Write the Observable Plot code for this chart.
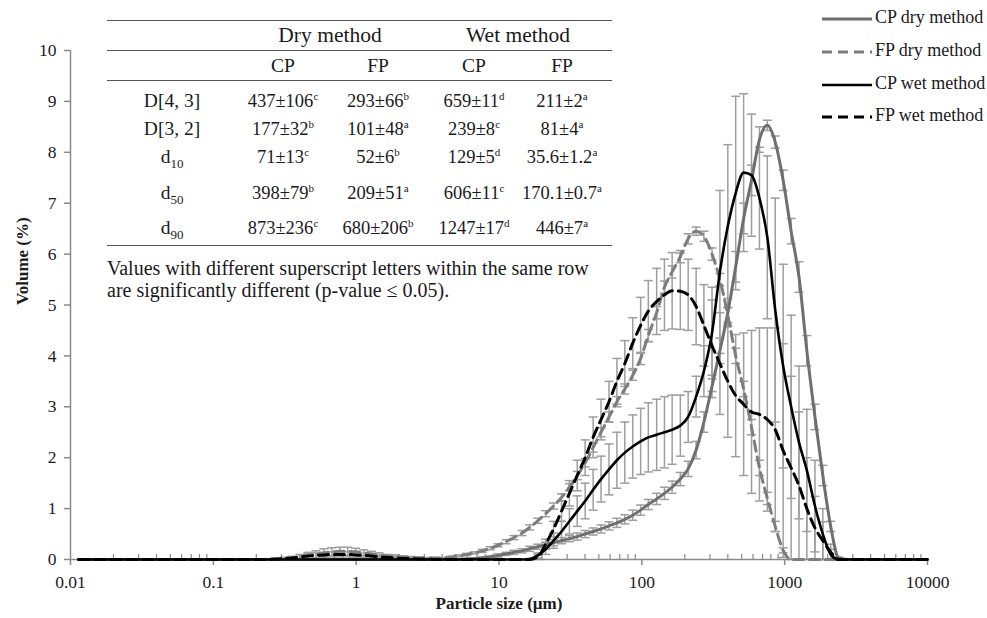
<!DOCTYPE html>
<html><head><meta charset="utf-8">
<script src="https://cdn.jsdelivr.net/npm/d3@7"></script>
<script src="https://cdn.jsdelivr.net/npm/@observablehq/plot@0.6"></script>
<style>
body{margin:0;background:#fff;}
#wrap{position:relative;width:987px;height:618px;font-family:"Liberation Serif",serif;color:#1a1a1a;overflow:hidden;}
.t{position:absolute;white-space:nowrap;text-align:center;line-height:20px;height:20px;font-size:18.5px;}
.t.hd{font-size:21.5px;}
.t.lab{font-size:19.5px;}
.t.note{font-size:20px;}
.rule{position:absolute;height:0;border-top:1.6px solid #555;}
.t sup{font-size:11px;line-height:0;vertical-align:0.65em;}
.t sub{font-size:13px;line-height:0;vertical-align:-0.4em;}
.lg{position:absolute;left:822px;height:20px;line-height:20px;font-size:18px;white-space:nowrap;}
.lg svg{vertical-align:middle;margin-right:3px;}
</style></head><body><div id="wrap"></div><script>
// ---------- data ----------
const sizes = [0.0114, 0.05, 0.1, 0.2, 0.276, 0.314,
 0.357, 0.405, 0.46, 0.523, 0.594, 0.675, 0.767, 0.872, 0.991,
 1.13, 1.28, 1.45, 1.65, 1.88, 2.13, 2.42, 2.75, 3.12, 3.55,
 4.03, 4.58, 5.21, 5.92, 6.72, 7.64, 8.68, 9.86,
 11.2, 12.7, 14.5, 16.4, 18.7, 21.2, 24.1, 27.4, 31.1, 35.3,
 40.1, 45.6, 51.8, 58.9, 66.9, 76.0, 86.4, 98.1,
 111, 127, 144, 163, 186, 211, 240, 272, 310, 352,
 400, 454, 516, 586, 666, 756, 859, 976,
 1110, 1260, 1430, 1630, 1850, 2100, 2390,
 2710, 3500, 10000];

const cpDry = [0,0,0,0,0,0,
 0,0,0,0,0,0,0,0,0,
 0,0,0,0,0,0,0,0,0,0,
 0,0,0,0.01,0.02,0.03,0.05,0.08,
 0.11,0.14,0.17,0.21,0.25,0.29,0.33,0.37,0.41,0.45,
 0.5,0.55,0.6,0.66,0.72,0.79,0.87,0.97,
 1.08,1.19,1.3,1.42,1.58,1.78,2.15,2.7,3.4,4.1,
 4.85,5.75,6.7,7.45,8.25,8.53,8.2,7.45,
 6.45,5.55,4.1,2.8,1.65,0.65,0.03,
 0,0,0];
const fpDry = [0,0,0,0,0.01,0.02,
 0.03,0.05,0.08,0.1,0.13,0.15,0.16,0.16,0.15,
 0.13,0.11,0.09,0.07,0.06,0.05,0.04,0.03,0.03,0.03,
 0.03,0.05,0.07,0.1,0.13,0.17,0.22,0.28,
 0.35,0.43,0.52,0.63,0.76,0.9,1.05,1.22,1.42,1.65,
 1.9,2.2,2.5,2.8,3.1,3.35,3.62,3.95,
 4.4,4.85,5.35,5.65,5.95,6.3,6.45,6.35,6.0,5.5,
 4.8,4.0,3.35,2.6,1.8,1.2,0.65,0.18,
 0,0,0,0,0,0,0,
 0,0,0];
const cpWet = [0,0,0,0,0,0,
 0,0,0,0,0,0,0,0,0,
 0,0,0,0,0,0,0,0,0,0,
 0,0,0,0,0,0,0,0,
 0,0,0,0.01,0.08,0.2,0.37,0.55,0.75,0.95,
 1.15,1.37,1.58,1.77,1.95,2.1,2.22,2.32,
 2.4,2.45,2.5,2.55,2.63,2.8,3.2,3.7,4.45,5.65,
 6.55,7.2,7.6,7.55,7.1,6.33,4.9,3.8,
 3.0,2.3,1.75,1.05,0.5,0.1,0,
 0,0,0];
const fpWet = [0,0,0,0,0.01,0.02,
 0.03,0.05,0.07,0.08,0.09,0.1,0.1,0.1,0.09,
 0.08,0.07,0.05,0.04,0.03,0.02,0.02,0.01,0.01,0,
 0,0,0,0,0,0,0,0,
 0,0,0,0,0.05,0.3,0.6,0.95,1.3,1.65,
 2.0,2.4,2.75,3.1,3.5,3.85,4.25,4.6,
 4.88,5.07,5.2,5.28,5.27,5.2,4.97,4.6,4.2,3.85,
 3.5,3.22,3.05,2.9,2.85,2.75,2.55,2.14,
 1.8,1.45,1.0,0.62,0.37,0.15,0,
 0,0,0];

const errCpDry = [0,0,0,0,0,0,
 0,0,0,0,0,0,0,0,0,
 0,0,0,0,0,0,0,0,0,0,
 0,0,0,0.01,0.01,0.02,0.02,0.03,
 0.03,0.04,0.04,0.05,0.05,0.05,0.06,0.06,0.06,0.07,
 0.07,0.07,0.08,0.08,0.09,0.09,0.1,0.1,
 0.1,0.11,0.12,0.12,0.13,0.15,0.17,0.2,0.22,0.25,
 0.28,0.3,0.3,0.3,0.25,0.1,0.12,0.2,
 0.25,0.3,0.3,0.25,0.2,0.1,0.02,
 0,0,0];
const errFpDry = [0,0,0,0,0.01,0.02,
 0.03,0.05,0.06,0.07,0.08,0.08,0.08,0.08,0.07,
 0.06,0.05,0.04,0.03,0.03,0.02,0.02,0.02,0.01,0.01,
 0.01,0.01,0.02,0.02,0.02,0.03,0.03,0.03,
 0.04,0.04,0.05,0.05,0.05,0.06,0.06,0.07,0.07,0.08,
 0.08,0.09,0.09,0.1,0.1,0.1,0.1,0.12,
 0.12,0.12,0.12,0.12,0.12,0.1,0.08,0.1,0.12,0.12,
 0.15,0.15,0.15,0.15,0.15,0.12,0.1,0.05,
 0,0,0,0,0,0,0,
 0,0,0];
const errCpWet = [0,0,0,0,0,0,
 0,0,0,0,0,0,0,0,0,
 0,0,0,0,0,0,0,0,0,0,
 0,0,0,0,0,0,0,0,
 0,0,0,0.01,0.05,0.1,0.15,0.2,0.25,0.3,
 0.35,0.4,0.45,0.5,0.55,0.6,0.62,0.65,
 0.68,0.7,0.7,0.68,0.6,0.5,0.4,0.5,0.9,1.6,
 1.6,1.9,1.55,1.2,1.0,1.6,2.2,2.0,
 1.8,1.5,1.2,0.9,0.5,0.1,0,
 0,0,0];
const errFpWet = [0,0,0,0,0.01,0.02,
 0.03,0.04,0.05,0.05,0.05,0.05,0.05,0.05,0.05,
 0.04,0.04,0.03,0.02,0.02,0.01,0.01,0.01,0.01,0,
 0,0,0,0,0,0,0,0,
 0,0,0,0,0.05,0.1,0.15,0.2,0.25,0.3,
 0.35,0.4,0.4,0.4,0.45,0.45,0.5,0.55,
 0.6,0.65,0.7,0.75,0.75,0.7,0.75,0.8,0.9,1.0,
 1.1,1.2,1.4,1.6,1.7,1.8,2.0,2.1,
 1.8,1.45,1.0,0.62,0.37,0.15,0,
 0,0,0];

const seriesNames = ["CP dry method", "FP dry method", "CP wet method", "FP wet method"];
const yTicks = [0,1,2,3,4,5,6,7,8,9,10];
const yTickLabels = ["0","1","2","3","4","5","6","7","8","9","10"];
const xTicks = [0.01, 0.1, 1, 10, 100, 1000, 10000];
const xTickLabels = ["0.01","0.1","1","10","100","1000","10000"];
const xTitle = "Particle size (µm)";
const yTitle = "Volume (%)";

// table content
const methodHeaders = ["Dry method", "Wet method"];
const sampleHeaders = ["CP", "FP", "CP", "FP"];
const rowLabelMain = ["D[4, 3]", "D[3, 2]", "d", "d", "d"];
const rowLabelSub = ["", "", "10", "50", "90"];
const dryCP = ["437±106", "177±32", "71±13", "398±79", "873±236"];
const dryCPsup = ["c", "b", "c", "b", "c"];
const dryFP = ["293±66", "101±48", "52±6", "209±51", "680±206"];
const dryFPsup = ["b", "a", "b", "a", "b"];
const wetCP = ["659±11", "239±8", "129±5", "606±11", "1247±17"];
const wetCPsup = ["d", "c", "d", "c", "d"];
const wetFP = ["211±2", "81±4", "35.6±1.2", "170.1±0.7", "446±7"];
const wetFPsup = ["a", "a", "a", "a", "a"];
const notes = ["Values with different superscript letters within the same row",
               "are significantly different (p-value ≤ 0.05)."];

// ---------- build ----------
const styles = [
  {stroke:"#6f6f6f", width:3, dash:null},
  {stroke:"#7d7d7d", width:3, dash:"10,6"},
  {stroke:"#000000", width:2.6, dash:null},
  {stroke:"#000000", width:3, dash:"10,6"}
];
const seriesVals = [cpDry, fpDry, cpWet, fpWet];
const seriesErr = [errCpDry, errFpDry, errCpWet, errFpWet];
const rows = [];
seriesNames.forEach((name, k) => sizes.forEach((x, i) =>
  rows.push({series:name, size:x, value:seriesVals[k][i], err:seriesErr[k][i]})));
const bars = rows.filter(d => d.err >= 0.01);
const lo = d => Math.max(0, d.value - d.err);
const hi = d => d.value + d.err;
const cap = {draw(ctx){ ctx.moveTo(-4.5, 0); ctx.lineTo(4.5, 0); }};
const minorTicks = [];
for (const dec of xTicks.slice(0, -1)) for (let m = 2; m <= 9; m++) minorTicks.push(+(dec * m).toPrecision(3));

const barColor = "#9e9e9e";
const axisColor = "#8a8a8a";
const lineMarks = [0, 1, 3, 2].map(k => Plot.line(rows.filter(d => d.series === seriesNames[k]), {
  x:"size", y:"value", stroke: styles[k].stroke, strokeWidth: styles[k].width,
  strokeDasharray: styles[k].dash ?? undefined, curve:"monotone-x"
}));

const chart = Plot.plot({
  width:987, height:618, marginLeft:70, marginRight:60, marginTop:50, marginBottom:59,
  x:{type:"log", domain:[0.01, 10000]},
  y:{domain:[0, 10]},
  style:{fontFamily:"Liberation Serif", fontSize:"17px", color:"#1a1a1a", background:"transparent"},
  marks:[
    Plot.ruleX(bars, {x:"size", y1:lo, y2:hi, stroke:barColor, strokeWidth:1.5}),
    Plot.dot(bars, {x:"size", y:lo, symbol:cap, fill:"none", stroke:barColor, strokeWidth:1.5}),
    Plot.dot(bars, {x:"size", y:hi, symbol:cap, fill:"none", stroke:barColor, strokeWidth:1.5}),
    Plot.ruleY([0], {stroke:axisColor, strokeWidth:1.5}),
    Plot.ruleX([0.01], {stroke:axisColor, strokeWidth:1.5}),
    Plot.ruleX(minorTicks, {y1:0, y2:0.1, stroke:axisColor, strokeWidth:1.2}),
    Plot.axisX(xTicks, {tickSize:6, tickPadding:10, stroke:axisColor, strokeWidth:1.5, fontSize:17.5,
      tickFormat: d => xTickLabels[xTicks.indexOf(d)], label:null}),
    Plot.axisY(yTicks, {tickSize:6, tickPadding:8, stroke:axisColor, strokeWidth:1.5, fontSize:17.5,
      tickFormat: d => yTickLabels[yTicks.indexOf(d)], label:null}),
    ...lineMarks,
    Plot.text([xTitle], {frameAnchor:"bottom", dy:49, fontWeight:"bold", fontSize:17}),
    Plot.text([yTitle], {frameAnchor:"left", dx:-48, rotate:-90, fontWeight:"bold", fontSize:17})
  ]
});
const wrap = document.getElementById("wrap");
chart.style.position = "absolute"; chart.style.left = "0px"; chart.style.top = "0px";
wrap.appendChild(chart);

// ---------- table overlay ----------
function place(html, cx, cy, cls, align) {
  const d = document.createElement("div");
  d.className = "t" + (cls ? " " + cls : "");
  d.innerHTML = html;
  if (align === "left") { d.style.left = cx + "px"; d.style.textAlign = "left"; }
  else { d.style.left = (cx - 150) + "px"; d.style.width = "300px"; }
  d.style.top = (cy - 10) + "px";
  wrap.appendChild(d);
}
function rule(x1, x2, y) {
  const r = document.createElement("div");
  r.className = "rule";
  r.style.left = x1 + "px"; r.style.width = (x2 - x1) + "px"; r.style.top = y + "px";
  wrap.appendChild(r);
}
const tL = 107, tR = 612;
[20, 50, 80, 245].forEach(y => rule(tL, tR, y));
const headerX = [330, 518];
methodHeaders.forEach((h, i) => place(h, headerX[i], 35, "hd"));
const colX = [283, 378, 474, 562];
sampleHeaders.forEach((h, i) => place(h, colX[i], 66, "lab"));
const rowY = [101, 129, 157, 193, 228];
const labelX = 172;
const cols = [[dryCP, dryCPsup], [dryFP, dryFPsup], [wetCP, wetCPsup], [wetFP, wetFPsup]];
rowY.forEach((y, r) => {
  place(rowLabelMain[r] + (rowLabelSub[r] ? "<sub>" + rowLabelSub[r] + "</sub>" : ""), labelX, y, "lab");
  cols.forEach(([v, s], c) => place(v[r] + "<sup>" + s[r] + "</sup>", colX[c], y));
});
place(notes[0], 107, 268, "note", "left");
place(notes[1], 107, 290, "note", "left");

// ---------- legend ----------
const legendY = [17, 50, 83, 115];
seriesNames.forEach((name, k) => {
  const d = document.createElement("div");
  d.className = "lg";
  d.style.top = (legendY[k] - 10) + "px";
  const st = styles[k];
  d.innerHTML = `<svg width="50" height="10"><line x1="0" y1="5" x2="50" y2="5" stroke="${st.stroke}" stroke-width="${st.width}" ${st.dash ? `stroke-dasharray="${st.dash}"` : ""}/></svg>${name}`;
  wrap.appendChild(d);
});
</script></body></html>
